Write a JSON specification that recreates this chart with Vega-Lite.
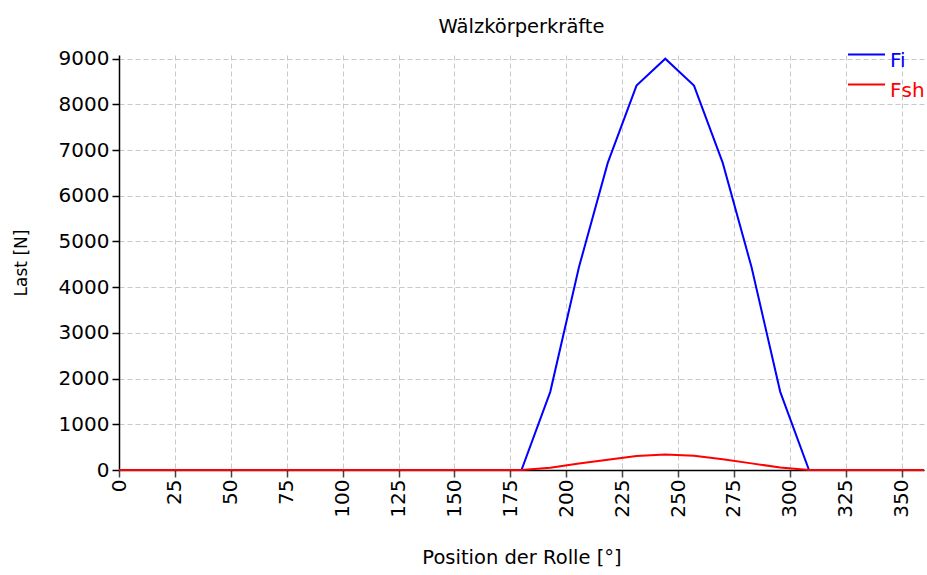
{
  "$schema": "https://vega.github.io/schema/vega-lite/v6.json",
  "width": 805,
  "height": 415,
  "autosize": "none",
  "padding": {"left": 119, "top": 55, "right": 3, "bottom": 105},
  "background": "white",
  "title": {"text": "Wälzkörperkräfte", "font": "DejaVu Sans", "fontSize": 19.5, "fontWeight": "normal", "color": "#000000", "anchor": "middle", "offset": 4},
  "config": {
    "view": {"stroke": null},
    "font": "DejaVu Sans"
  },
  "data": {"values": [
    {"pos": 0, "series": "Fi", "F": 0}, {"pos": 12.86, "series": "Fi", "F": 0}, {"pos": 25.71, "series": "Fi", "F": 0},
    {"pos": 38.57, "series": "Fi", "F": 0}, {"pos": 51.43, "series": "Fi", "F": 0}, {"pos": 64.29, "series": "Fi", "F": 0},
    {"pos": 77.14, "series": "Fi", "F": 0}, {"pos": 90, "series": "Fi", "F": 0}, {"pos": 102.86, "series": "Fi", "F": 0},
    {"pos": 115.71, "series": "Fi", "F": 0}, {"pos": 128.57, "series": "Fi", "F": 0}, {"pos": 141.43, "series": "Fi", "F": 0},
    {"pos": 154.29, "series": "Fi", "F": 0}, {"pos": 167.14, "series": "Fi", "F": 0}, {"pos": 180, "series": "Fi", "F": 0},
    {"pos": 192.86, "series": "Fi", "F": 1710}, {"pos": 205.71, "series": "Fi", "F": 4440}, {"pos": 218.57, "series": "Fi", "F": 6720},
    {"pos": 231.43, "series": "Fi", "F": 8410}, {"pos": 244.29, "series": "Fi", "F": 9000}, {"pos": 257.14, "series": "Fi", "F": 8410},
    {"pos": 270, "series": "Fi", "F": 6720}, {"pos": 282.86, "series": "Fi", "F": 4440}, {"pos": 295.71, "series": "Fi", "F": 1710},
    {"pos": 308.57, "series": "Fi", "F": 0}, {"pos": 321.43, "series": "Fi", "F": 0}, {"pos": 334.29, "series": "Fi", "F": 0},
    {"pos": 347.14, "series": "Fi", "F": 0}, {"pos": 360, "series": "Fi", "F": 0},
    {"pos": 0, "series": "Fsh", "F": 0}, {"pos": 12.86, "series": "Fsh", "F": 0}, {"pos": 25.71, "series": "Fsh", "F": 0},
    {"pos": 38.57, "series": "Fsh", "F": 0}, {"pos": 51.43, "series": "Fsh", "F": 0}, {"pos": 64.29, "series": "Fsh", "F": 0},
    {"pos": 77.14, "series": "Fsh", "F": 0}, {"pos": 90, "series": "Fsh", "F": 0}, {"pos": 102.86, "series": "Fsh", "F": 0},
    {"pos": 115.71, "series": "Fsh", "F": 0}, {"pos": 128.57, "series": "Fsh", "F": 0}, {"pos": 141.43, "series": "Fsh", "F": 0},
    {"pos": 154.29, "series": "Fsh", "F": 0}, {"pos": 167.14, "series": "Fsh", "F": 0}, {"pos": 180, "series": "Fsh", "F": 0},
    {"pos": 192.86, "series": "Fsh", "F": 50}, {"pos": 205.71, "series": "Fsh", "F": 140}, {"pos": 218.57, "series": "Fsh", "F": 225},
    {"pos": 231.43, "series": "Fsh", "F": 305}, {"pos": 244.29, "series": "Fsh", "F": 340}, {"pos": 257.14, "series": "Fsh", "F": 310},
    {"pos": 270, "series": "Fsh", "F": 235}, {"pos": 282.86, "series": "Fsh", "F": 145}, {"pos": 295.71, "series": "Fsh", "F": 55},
    {"pos": 308.57, "series": "Fsh", "F": 0}, {"pos": 321.43, "series": "Fsh", "F": 0}, {"pos": 334.29, "series": "Fsh", "F": 0},
    {"pos": 347.14, "series": "Fsh", "F": 0}, {"pos": 360, "series": "Fsh", "F": 0}
  ]},
  "mark": {"type": "line", "strokeWidth": 2},
  "encoding": {
    "x": {
      "field": "pos", "type": "quantitative",
      "scale": {"domain": [0, 360], "nice": false, "zero": false},
      "axis": {
        "title": "Position der Rolle [°]",
        "titleFont": "DejaVu Sans", "titleFontSize": 19.5, "titleFontWeight": "normal", "titleColor": "#000000",
        "titlePadding": 31,
        "values": [0, 25, 50, 75, 100, 125, 150, 175, 200, 225, 250, 275, 300, 325, 350],
        "labelAngle": 270, "labelAlign": "right", "labelBaseline": "middle",
        "labelFont": "DejaVu Sans", "labelFontSize": 20, "labelColor": "#000000", "labelPadding": 2,
        "labelFlush": false, "labelOverlap": false,
        "domainColor": "#000000", "domainWidth": 1.5,
        "tickColor": "#444444", "tickSize": 7, "tickWidth": 1.5,
        "grid": true, "gridColor": "#c8c8c8", "gridDash": [5, 3], "gridWidth": 1,
        "zindex": 0
      }
    },
    "y": {
      "field": "F", "type": "quantitative",
      "scale": {"domain": [0, 9080], "nice": false},
      "axis": {
        "title": "Last [N]",
        "titleFont": "DejaVu Sans", "titleFontSize": 17, "titleFontWeight": "normal", "titleColor": "#000000",
        "titlePadding": 28,
        "format": "d",
        "values": [0, 1000, 2000, 3000, 4000, 5000, 6000, 7000, 8000, 9000],
        "labelFont": "DejaVu Sans", "labelFontSize": 20, "labelColor": "#000000", "labelPadding": 3,
        "labelFlush": false, "labelOverlap": false,
        "domainColor": "#000000", "domainWidth": 1.5,
        "tickColor": "#000000", "tickSize": 7, "tickWidth": 1.5,
        "grid": true, "gridColor": "#c8c8c8", "gridDash": [5, 3], "gridWidth": 1,
        "zindex": 0
      }
    },
    "color": {
      "field": "series", "type": "nominal",
      "scale": {"domain": ["Fi", "Fsh"], "range": ["#0000ff", "#ff0000"]},
      "legend": {
        "title": null,
        "orient": "none", "legendX": 728, "legendY": -14,
        "symbolType": "M-1,-0.32H1", "symbolSize": 1369, "symbolStrokeWidth": 2,
        "labelFont": "DejaVu Sans", "labelFontSize": 20, "labelOffset": 4,
        "rowPadding": -4, "padding": 0,
        "encode": {"labels": {"update": {"fill": {"signal": "datum.value === 'Fi' ? '#0000ff' : '#ff0000'"}}}}
      }
    },
    "order": {"field": "pos", "type": "quantitative"}
  }
}
